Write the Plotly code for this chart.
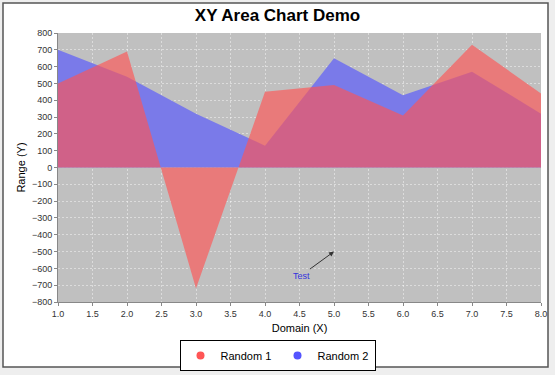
import plotly.graph_objects as go

# Data
x_vals = [1, 2, 3, 4, 5, 6, 7, 8]
random1 = [500, 690, -720, 450, 490, 310, 730, 440]
random2 = [700, 540, 320, 130, 650, 430, 570, 320]
series_names = ["Random 1", "Random 2"]
x_ticks = [1.0, 1.5, 2.0, 2.5, 3.0, 3.5, 4.0, 4.5, 5.0, 5.5, 6.0, 6.5, 7.0, 7.5, 8.0]
y_ticks = list(range(-800, 801, 100))

W, H = 555, 375
L, R, T, B = 58, 541, 33, 302
pw, ph = R - L, B - T
BG = "rgb(192,192,192)"


def px(xp):
    return (xp - L) / pw


def py(yp):
    return (B - yp) / ph


fig = go.Figure()
# opaque background-coloured underlays so gridlines do not show through the areas
for ys in (random2, random1):
    fig.add_trace(go.Scatter(x=x_vals, y=ys, mode="lines", fill="tozeroy",
                             line=dict(width=0, color="rgba(0,0,0,0)"),
                             fillcolor=BG, showlegend=False, hoverinfo="skip"))
# Series 2 drawn first (JFreeChart renders in reverse order)
fig.add_trace(go.Scatter(x=x_vals, y=random2, mode="lines", fill="tozeroy",
                         line=dict(width=0, color="rgba(85,85,255,0)"),
                         fillcolor="rgba(85,85,255,0.65)", showlegend=False,
                         hoverinfo="skip"))
fig.add_trace(go.Scatter(x=x_vals, y=random1, mode="lines", fill="tozeroy",
                         line=dict(width=0, color="rgba(255,85,85,0)"),
                         fillcolor="rgba(255,85,85,0.65)", showlegend=False,
                         hoverinfo="skip"))
# Legend entries
fig.add_trace(go.Scatter(x=[None], y=[None], mode="markers", name=series_names[0],
                         marker=dict(symbol="circle", size=8, color="rgb(255,85,85)")))
fig.add_trace(go.Scatter(x=[None], y=[None], mode="markers", name=series_names[1],
                         marker=dict(symbol="circle", size=8, color="rgb(85,85,255)")))

fig.add_annotation(x=5.0, y=-500, xref="x", yref="y", text="Test", showarrow=True,
                   ax=-33, ay=24, arrowhead=2, arrowsize=1, arrowwidth=1,
                   arrowcolor="#333333", font=dict(family="Liberation Sans", size=9,
                                                   color="#3333dd"))

fig.add_shape(type="rect", xref="paper", yref="paper", x0=px(3), x1=px(548),
              y0=py(367), y1=py(3), fillcolor="white",
              line=dict(color="#555555", width=1.5), layer="below")
fig.add_shape(type="rect", xref="paper", yref="paper", x0=0, x1=1, y0=0, y1=1,
              fillcolor=BG, line=dict(width=0), layer="below")

fig.update_layout(
    width=W, height=H,
    margin=dict(l=L, r=W - R, t=T, b=H - B, autoexpand=False),
    paper_bgcolor="#eeeeee",
    plot_bgcolor=BG,
    title=dict(text="<b>XY Area Chart Demo</b>", x=0.5, xanchor="center",
               xref="container", y=1 - 15 / H, yanchor="middle",
               font=dict(family="Liberation Sans", size=17, color="black")),
    font=dict(family="Liberation Sans", size=9, color="#333333"),
    showlegend=True,
    legend=dict(orientation="h", xref="container", x=0.5, xanchor="center",
                y=py(340), yanchor="top",
                bordercolor="black", borderwidth=1, bgcolor="white",
                font=dict(family="Liberation Sans", size=11, color="black"),
                itemwidth=30, entrywidth=52, entrywidthmode="pixels",
                tracegroupgap=0),
)
fig.update_xaxes(range=[1, 8], tickvals=x_ticks,
                 ticktext=[f"{v:.1f}" for v in x_ticks], automargin=False,
                 showgrid=True, gridcolor="rgba(255,255,255,0.45)", griddash="2px,2px",
                 gridwidth=1, zeroline=False, showline=True, linecolor="#888888",
                 ticks="outside", ticklen=3, tickcolor="#888888",
                 title=dict(text="Domain (X)", font=dict(size=11, color="black"),
                            standoff=6))
fig.update_yaxes(range=[-800, 800], tickvals=y_ticks, automargin=False,
                 showgrid=True, gridcolor="rgba(255,255,255,0.45)", griddash="2px,2px",
                 gridwidth=1, zeroline=False, showline=True, linecolor="#888888",
                 ticks="outside", ticklen=3, tickcolor="#888888",
                 title=dict(text="Range (Y)", font=dict(size=11, color="black"),
                            standoff=4))

fig.write_html("out.html", config={"displayModeBar": False},
               post_script="document.body.style.margin='0';")
